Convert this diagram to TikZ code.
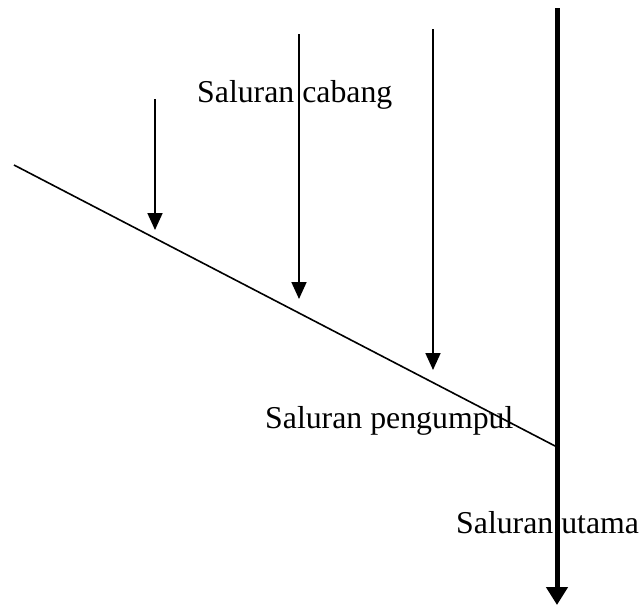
\documentclass[tikz,border=0pt]{standalone}
\usepackage{fontspec}
\setmainfont{Liberation Serif}
\usepackage{tikz}
\usetikzlibrary{arrows.meta}

\tikzset{
	label/.style={anchor=base west, inner sep=0pt, font=\fontsize{31.8}{38}\selectfont},
	branch/.style={line width=1.8pt, -{Triangle[length=17pt,width=15pt]}},
	main/.style={line width=5pt, -{Triangle[length=18pt,width=21pt]}}
}

\begin{document}
\begin{tikzpicture}[x=1pt, y=-1pt]
	\useasboundingbox (0,0) rectangle (643,606);
	
	% saluran pengumpul
	\coordinate (kiri) at (14,165);
	\coordinate (temu) at (557,447);
	\draw[line width=1.6pt] (kiri) -- (temu);
	
	% saluran utama
	\coordinate (atas) at (557,8);
	\coordinate (bawah) at (557,605);
	\draw[main] (atas) -- (bawah);
	
	% label
	\node[label] (cabang) at (197,102) {Saluran cabang};
	\node[label] (pengumpul) at (265,428) {Saluran pengumpul};
	\node[label] (utama) at (456,533) {Saluran utama};
	
	% saluran cabang
	\coordinate (c1) at (155,99);
	\coordinate (c1e) at (155,230);
	\coordinate (c2) at (299,34);
	\coordinate (c2e) at (299,299);
	\coordinate (c3) at (433,29);
	\coordinate (c3e) at (433,370);
	\draw[branch] (c1) -- (c1e);
	\draw[branch] (c2) -- (c2e);
	\draw[branch] (c3) -- (c3e);
\end{tikzpicture}
\end{document}
